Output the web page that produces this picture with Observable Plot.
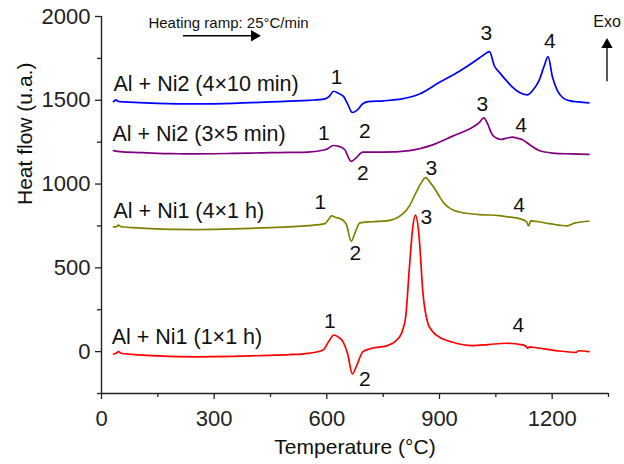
<!DOCTYPE html>
<html>
<head>
<meta charset="utf-8">
<script src="https://cdn.jsdelivr.net/npm/d3@7"></script>
<script src="https://cdn.jsdelivr.net/npm/@observablehq/plot@0.6"></script>
<style>
  html, body { margin: 0; padding: 0; background: #fff; }
  #chart { width: 624px; height: 464px; }
</style>
</head>
<body>
<div id="chart"></div>
<script>
// ---- Data ----
const seriesNames = ["Al + Ni2 (4×10 min)", "Al + Ni2 (3×5 min)", "Al + Ni1 (4×1 h)", "Al + Ni1 (1×1 h)"];
const seriesColors = ["#0000ff", "#800080", "#808000", "#ff0000"];

const tempBlue = [32, 38, 45, 60, 100, 150, 200, 250, 300, 350, 400, 450, 500, 550, 595, 607, 618, 632, 645, 655, 668, 680, 695, 710, 750, 800, 820, 847, 900, 953, 1006, 1020, 1033, 1046, 1060, 1086, 1095, 1112, 1134, 1148, 1165, 1179, 1189, 1201, 1214, 1227, 1245, 1270, 1298];
const flowBlue = [1492, 1503, 1493, 1490, 1486, 1482, 1479, 1478, 1479, 1482, 1486, 1490, 1495, 1499, 1508, 1525, 1554, 1540, 1522, 1480, 1427, 1440, 1478, 1492, 1497, 1508, 1518, 1538, 1607, 1673, 1752, 1775, 1790, 1706, 1665, 1598, 1577, 1548, 1532, 1558, 1617, 1706, 1760, 1637, 1558, 1518, 1498, 1490, 1485];

const tempPurple = [32, 50, 100, 150, 200, 250, 300, 350, 400, 450, 500, 550, 595, 605, 617, 632, 648, 656, 665, 675, 696, 749, 820, 882, 935, 988, 1005, 1018, 1028, 1037, 1042, 1064, 1080, 1094, 1110, 1121, 1140, 1165, 1201, 1250, 1298];
const flowPurple = [1200, 1194, 1188, 1183, 1181, 1180, 1181, 1183, 1185, 1187, 1189, 1191, 1205, 1215, 1230, 1225, 1205, 1165, 1135, 1150, 1190, 1190, 1200, 1234, 1286, 1339, 1365, 1395, 1360, 1310, 1290, 1266, 1275, 1280, 1272, 1264, 1235, 1200, 1185, 1180, 1177];

const tempOlive = [32, 40, 45, 52, 100, 150, 200, 250, 300, 350, 400, 450, 500, 550, 595, 605, 612, 625, 643, 652, 665, 676, 688, 720, 759, 803, 820, 838, 852, 863, 875, 887, 900, 913, 930, 953, 1006, 1059, 1077, 1121, 1132, 1137, 1143, 1192, 1240, 1261, 1298];
const flowOlive = [744, 746, 755, 745, 738, 732, 729, 728, 729, 732, 736, 740, 745, 752, 764, 790, 810, 800, 784, 760, 659, 715, 768, 775, 780, 824, 870, 952, 1010, 1038, 1010, 973, 925, 883, 852, 833, 818, 812, 806, 788, 775, 750, 780, 764, 750, 768, 778];

const tempRed = [32, 40, 45, 52, 100, 150, 200, 250, 300, 350, 400, 450, 500, 550, 590, 605, 619, 630, 643, 655, 668, 680, 696, 720, 759, 794, 802, 810, 820, 829, 836, 845, 856, 869, 880, 891, 900, 935, 988, 1030, 1077, 1121, 1130, 1134, 1140, 1148, 1210, 1263, 1270, 1298];
const flowRed = [-14, -8, 0, -10, -20, -26, -30, -31, -30, -28, -25, -22, -18, -10, 10, 60, 99, 88, 60, -10, -133, -80, 0, 20, 34, 89, 129, 208, 506, 744, 814, 705, 348, 169, 125, 99, 86, 56, 36, 42, 50, 40, 32, 20, 28, 26, 6, -4, 5, 0];

// Tick values
const xTicks = [0, 300, 600, 900, 1200];
const xMinorTicks = [150, 450, 750, 1050, 1350];
const yTicks = [0, 500, 1000, 1500, 2000];
const yMinorTicks = [-250, 250, 750, 1250, 1750];

// Series labels (anchor at left, data units)
const seriesLabelT = [32, 29, 32, 27];
const seriesLabelV = [1598, 1300, 839, 89];

// Peak number labels
const peakText = ["1", "2", "3", "4", "1", "2", "3", "4", "1", "2", "3", "4", "1", "2", "3", "4"];
const peakT = [626, 701, 1025, 1194, 592, 696, 1014, 1117, 583, 676, 878, 1112, 608, 701, 865, 1110];
const peakV = [1635, 1314, 1897, 1851, 1304, 1064, 1474, 1349, 891, 586, 1093, 873, 179, -168, 804, 159];

// Annotations
const rampText = "Heating ramp: 25°C/min";
const rampTextPos = {t: 125, v: 1962};
const rampArrow = {t1: 218, t2: 422, v: 1885};
const exoText = "Exo";
const exoPos = {t: 1346, v: 1968};
const exoArrow = {t: 1346, v1: 1611, v2: 1862};

// ---- Build tables ----
const curves = [
  [tempBlue, flowBlue], [tempPurple, flowPurple], [tempOlive, flowOlive], [tempRed, flowRed]
].flatMap(([ts, vs], i) => ts.map((t, j) => ({series: seriesNames[i], t, v: vs[j]})));

const seriesLabels = seriesNames.map((name, i) => ({name, t: seriesLabelT[i], v: seriesLabelV[i]}));
const peaks = peakText.map((s, i) => ({s, t: peakT[i], v: peakV[i]}));

const FONT = "Liberation Sans, Arial, Helvetica, sans-serif";
const AX = "#222";
const fmt = d3.format("d");

const plot = Plot.plot({
  width: 624,
  height: 464,
  marginLeft: 101,
  marginRight: 16,
  marginTop: 16,
  marginBottom: 71,
  style: {fontFamily: FONT, fontSize: "21px", background: "#fff", color: AX},
  x: {domain: [0, 1350]},
  y: {domain: [-250, 2000]},
  color: {domain: seriesNames, range: seriesColors},
  marks: [
    // axis lines
    Plot.ruleX([0], {stroke: AX, strokeWidth: 1.4}),
    Plot.ruleY([-250], {stroke: AX, strokeWidth: 1.4}),
    // minor ticks
    Plot.axisX(xMinorTicks, {tickSize: 4, tickFormat: () => "", stroke: AX, strokeWidth: 1.3, label: null}),
    Plot.axisY(yMinorTicks, {tickSize: 4, tickFormat: () => "", stroke: AX, strokeWidth: 1.3, label: null}),
    // major ticks
    Plot.axisX(xTicks, {tickSize: 6, tickPadding: 11, tickFormat: fmt, stroke: AX, strokeWidth: 1.3, fontSize: 22,
      label: null}),
    Plot.axisY(yTicks, {tickSize: 6, tickPadding: 5, tickFormat: fmt, stroke: AX, strokeWidth: 1.3, fontSize: 22,
      label: null}),
    // axis titles
    Plot.text(["Temperature (°C)"], {frameAnchor: "bottom", dy: 60, text: d => d, fontSize: 21, fill: "#111"}),
    Plot.text(["Heat flow (u.a.)"], {frameAnchor: "left", dx: -76, rotate: -90, text: d => d, fontSize: 21, fill: "#111"}),
    // curves
    Plot.line(curves, {x: "t", y: "v", z: "series", stroke: "series", strokeWidth: 1.7, curve: "monotone-x"}),
    // series labels
    Plot.text(seriesLabels, {x: "t", y: "v", text: "name", textAnchor: "start", fontSize: 21.5, fill: "#111"}),
    // peak labels
    Plot.text(peaks, {x: "t", y: "v", text: "s", fontSize: 21, fill: "#111"}),
    // heating ramp annotation
    Plot.text([rampText], {x: rampTextPos.t, y: rampTextPos.v, text: d => d, textAnchor: "start", fontSize: 15, fill: "#111"}),
    Plot.ruleY([rampArrow.v], {x1: rampArrow.t1, x2: rampArrow.t2 - 10, stroke: "#000", strokeWidth: 1.3}),
    Plot.dot([rampArrow], {x: d => d.t2 - 15, y: "v", symbol: "triangle", fill: "#000", stroke: null, r: 4.2, rotate: 90}),
    // Exo annotation
    Plot.text([exoText], {x: exoPos.t, y: exoPos.v, text: d => d, fontSize: 16, fill: "#111"}),
    Plot.ruleX([exoArrow.t], {y1: exoArrow.v1, y2: exoArrow.v2 - 20, stroke: "#000", strokeWidth: 1.3}),
    Plot.dot([exoArrow], {x: "t", y: d => d.v2 - 30, symbol: "triangle", fill: "#000", stroke: null, r: 4.2})
  ]
});
document.getElementById("chart").appendChild(plot);
</script>
</body>
</html>
